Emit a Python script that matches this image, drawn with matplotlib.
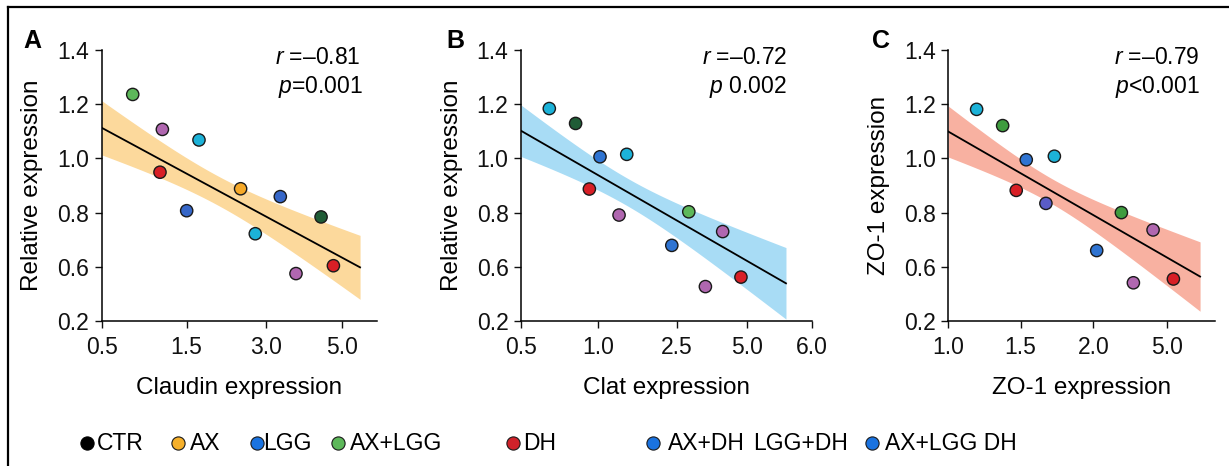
import numpy as np
import matplotlib
matplotlib.use("Agg")
import matplotlib.pyplot as plt
from matplotlib.lines import Line2D

plt.rcParams['font.family'] = ['Liberation Sans', 'DejaVu Sans']
plt.rcParams['mathtext.fontset'] = 'custom'
plt.rcParams['mathtext.rm'] = 'Liberation Sans'
plt.rcParams['mathtext.it'] = 'Liberation Sans:italic'

# ---------------- data ----------------
colors = {
    'green': '#5db85a', 'purple': '#b067b0', 'cyan': '#1cb2d8', 'red': '#d81f26',
    'blue': '#3667c9', 'orange': '#f6a928', 'darkgreen': '#1f5c36',
    'blue2': '#2f74d2', 'green2': '#3f9c3f', 'slate': '#5a5cc6',
}

y_ticks = [0.2, 0.6, 0.8, 1.0, 1.2, 1.4]
y_tick_labels = ['0.2', '0.6', '0.8', '1.0', '1.2', '1.4']

# Panel A
a_x = [0.865, 1.214, 1.734, 1.186, 1.50, 2.525, 3.386, 4.456, 2.804, 3.798, 4.78]
a_y = [1.236, 1.107, 1.068, 0.949, 0.807, 0.888, 0.859, 0.784, 0.722, 0.55, 0.604]
a_groups = ['green', 'purple', 'cyan', 'red', 'blue', 'orange', 'blue', 'darkgreen',
            'cyan', 'purple', 'red']
a_xticks = [0.5, 1.5, 3.0, 5.0]
a_xticklabels = ['0.5', '1.5', '3.0', '5.0']
a_fit = [1.113, 0.596]          # fitted line value at first tick / at line end
a_fit_xend = 5.48
a_band = [0.100, 0.055, 0.118]  # half-width of confidence band: start / middle / end

# Panel B
b_x = [0.683, 0.853, 1.032, 1.543, 0.942, 1.396, 2.929, 4.143, 2.404, 4.798, 3.524]
b_y = [1.184, 1.129, 1.006, 1.015, 0.887, 0.791, 0.803, 0.730, 0.679, 0.524, 0.454]
b_groups = ['cyan', 'darkgreen', 'blue2', 'cyan', 'red', 'purple', 'green', 'purple',
            'blue2', 'red', 'purple']
b_xticks = [0.5, 1.0, 2.5, 5.0, 6.0]
b_xticklabels = ['0.5', '1.0', '2.5', '5.0', '6.0']
b_fit = [1.102, 0.478]
b_fit_xend = 5.605
b_band = [0.095, 0.055, 0.132]

# Panel C
c_x = [1.196, 1.376, 1.539, 1.732, 1.470, 1.674, 3.145, 2.136, 4.441, 3.636, 5.273]
c_y = [1.181, 1.121, 0.995, 1.008, 0.882, 0.834, 0.800, 0.660, 0.736, 0.482, 0.510]
c_groups = ['cyan', 'green2', 'blue2', 'cyan', 'red', 'slate', 'green2', 'blue2',
            'purple', 'purple', 'red']
c_xticks = [1.0, 1.5, 2.0, 5.0]
c_xticklabels = ['1.0', '1.5', '2.0', '5.0']
c_fit = [1.099, 0.528]
c_fit_xend = 6.364
c_band = [0.094, 0.050, 0.128]

legend_labels = ['CTR', 'AX', 'LGG', 'AX+LGG', 'DH', 'AX+DH', 'LGG+DH', 'AX+LGG DH']
legend_colors = ['#000000', '#f6b02a', '#1a73e0', '#5db85a', '#d0222a', '#1a73e0', None, '#1a73e0']

# ---------------- layout ----------------
W, H = 1229, 466
fig = plt.figure(figsize=(W / 100, H / 100), dpi=100)


def fx(px):
    return px / W


def fy(py):
    return 1 - py / H


def piecewise(ticks, pos):
    t = np.asarray(ticks, float)
    p = np.asarray(pos, float)

    def make(src, dst):
        def f(v):
            v = np.asarray(v, float)
            mid = np.interp(v, src, dst)
            lo = dst[0] + (v - src[0]) * (dst[1] - dst[0]) / (src[1] - src[0])
            hi = dst[-1] + (v - src[-1]) * (dst[-1] - dst[-2]) / (src[-1] - src[-2])
            return np.where(v < src[0], lo, np.where(v > src[-1], hi, mid))
        return f
    return make(t, p), make(p, t)


y_pos = [0.4, 0.6, 0.8, 1.0, 1.2, 1.4]
yf, yi = piecewise(y_ticks, y_pos)

panels = [
    dict(box=(101.7, 50, 376.7, 321), x=a_x, y=a_y, g=a_groups, xt=a_xticks, xtl=a_xticklabels,
         xpos=[0, 0.309, 0.596, 0.873], fit=a_fit, xend=a_fit_xend, band=a_band,
         bandc='#fcd99c', xlabel='Claudin expression', ylabel='Relative expression',
         letter='A', letter_px=(23, 41), r='$\\it{r}$ =\u20130.81', p='$\\it{p}$=0.001',
         rp_px=(360, 58, 363, 87)),
    dict(box=(521, 50, 811.7, 321), x=b_x, y=b_y, g=b_groups, xt=b_xticks, xtl=b_xticklabels,
         xpos=[0, 0.266, 0.536, 0.776, 1.0], fit=b_fit, xend=b_fit_xend, band=b_band,
         bandc='#a8dcf5', xlabel='Clat expression', ylabel='Relative expression',
         letter='B', letter_px=(446, 41), r='$\\it{r}$ =\u20130.72', p='$\\it{p}$ 0.002',
         rp_px=(787, 58, 787, 87)),
    dict(box=(948.3, 50, 1215, 321), x=c_x, y=c_y, g=c_groups, xt=c_xticks, xtl=c_xticklabels,
         xpos=[0, 0.271, 0.544, 0.819], fit=c_fit, xend=c_fit_xend, band=c_band,
         bandc='#f8b1a1', xlabel='ZO-1 expression', ylabel='ZO-1 expression',
         letter='C', letter_px=(872, 41), r='$\\it{r}$ =\u20130.79', p='$\\it{p}$<0.001',
         rp_px=(1199, 58, 1200, 87)),
]

for P in panels:
    l, t, r, b = P['box']
    ax = fig.add_axes([fx(l), fy(b), (r - l) / W, (b - t) / H])
    xf, xi = piecewise(P['xt'], P['xpos'])
    ax.set_xscale('function', functions=(xf, xi))
    ax.set_yscale('function', functions=(yf, yi))
    ax.set_xlim(P['xt'][0], float(xi(1.0)))
    ax.set_ylim(y_ticks[0], y_ticks[-1])

    # confidence band (computed in display-linear position space)
    p0 = float(xf(P['xt'][0]))
    p1 = float(xf(P['xend']))
    q0 = float(yf(P['fit'][0]))
    q1 = float(yf(P['fit'][1]))
    pm = (p0 + p1) / 2
    coef = np.polyfit([p0, pm, p1], np.square(P['band']), 2)
    ps = np.linspace(p0, p1, 200)
    qs = q0 + (q1 - q0) * (ps - p0) / (p1 - p0)
    hw = np.sqrt(np.clip(np.polyval(coef, ps), 0, None))
    ax.fill_between(xi(ps), yi(qs - hw), yi(qs + hw), color=P['bandc'], lw=0, zorder=1)
    ax.plot([P['xt'][0], P['xend']], [P['fit'][0], P['fit'][1]], color='black', lw=1.3, zorder=2)

    ax.scatter(P['x'], P['y'], s=78, c=[colors[g] for g in P['g']], edgecolors='#1a1a1a',
               linewidths=1.0, zorder=3, clip_on=False)

    ax.set_xticks(P['xt'], P['xtl'])
    ax.set_yticks(y_ticks, y_tick_labels)
    ax.minorticks_off()
    ax.tick_params(direction='out', length=5, width=1, labelsize=16.5, colors='#111111')
    ax.tick_params(axis='x', pad=6)
    ax.tick_params(axis='y', pad=4)
    for s in ['top', 'right']:
        ax.spines[s].set_visible(False)
    for s in ['left', 'bottom']:
        ax.spines[s].set_linewidth(1.1)
    ax.set_xlabel(P['xlabel'], fontsize=17.5, labelpad=13)
    ax.set_ylabel(P['ylabel'], fontsize=17.5, labelpad=10)

    fig.text(fx(P['letter_px'][0]), fy(P['letter_px'][1]), P['letter'], fontsize=18,
             fontweight='bold', ha='left', va='center')
    fig.text(fx(P['rp_px'][0]), fy(P['rp_px'][1]), P['r'], fontsize=16.5, ha='right', va='center')
    fig.text(fx(P['rp_px'][2]), fy(P['rp_px'][3]), P['p'], fontsize=16.5, ha='right', va='center')

# legend
legend_marker_px = [87, 178, 257, 338, 513, 653, None, 872]
legend_text_px = [97, 190, 263, 350, 523, 668, 753, 885]
ly = 443
for lab, col, mx, tx in zip(legend_labels, legend_colors, legend_marker_px, legend_text_px):
    if mx is not None:
        edge = col if col == '#000000' else '#1a1a1a'
        fig.add_artist(Line2D([fx(mx)], [fy(ly)], marker='o', ms=9.5, mfc=col, mec=edge,
                              mew=0.8, transform=fig.transFigure))
    fig.text(fx(tx), fy(ly + 1), lab, fontsize=16.5, ha='left', va='center')

# frame
fig.add_artist(Line2D([fx(8), fx(8)], [fy(7), fy(466)], color='black', lw=1.6,
                      transform=fig.transFigure))
fig.add_artist(Line2D([fx(8), fx(1229)], [fy(7), fy(7)], color='black', lw=1.6,
                      transform=fig.transFigure))

fig.savefig('out.png', dpi=100)
